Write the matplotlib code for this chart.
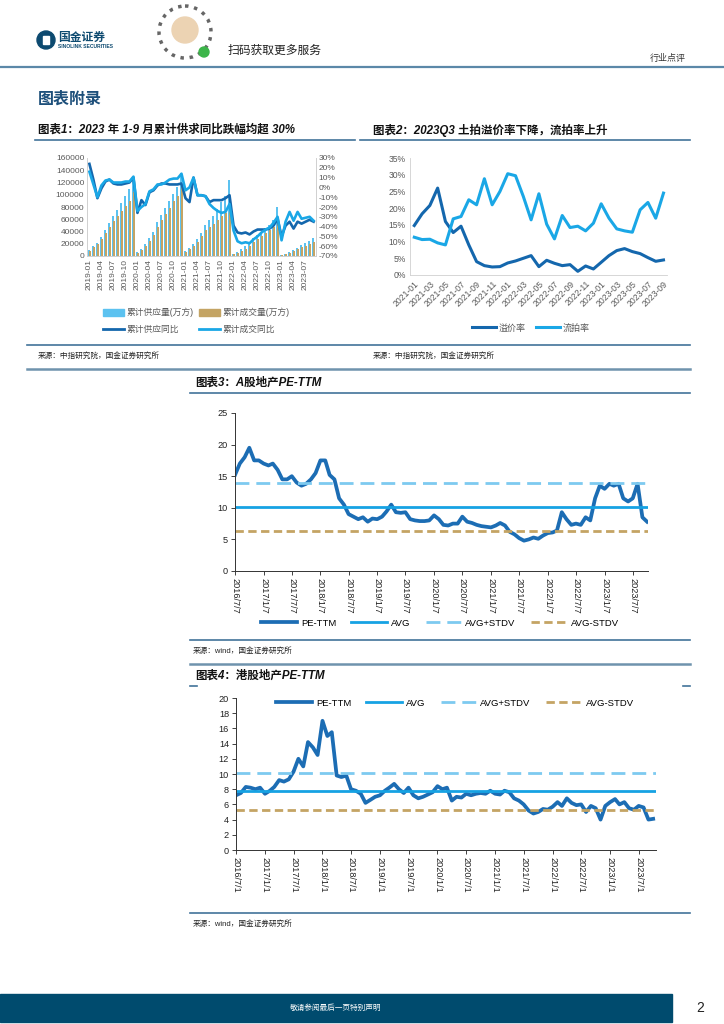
import matplotlib
matplotlib.use('Agg')
import matplotlib.pyplot as plt
from matplotlib.patches import Rectangle, Circle, Patch
from matplotlib.lines import Line2D
import numpy as np
import pandas as pd

plt.rcParams['font.family'] = ['Liberation Sans', 'Noto Sans CJK SC', 'DejaVu Sans']
plt.rcParams['axes.unicode_minus'] = False

W, H = 724, 1024

# ---- chart 1: cumulative land supply / deals (万方) and yoy (%)
months1 = pd.date_range('2019-01-01', '2023-09-01', freq='MS')
supply = [10000, 16000, 22000, 31000, 43000, 54000, 66000, 75000, 87000, 98000, 110000, 127000,
          6500, 12000, 19000, 29000, 40000, 55000, 67000, 78000, 90000, 102000, 113000, 136000,
          8000, 13000, 19000, 27000, 37000, 51000, 58000, 66000, 77000, 88000, 98000, 124000,
          4000, 7000, 11000, 16000, 21000, 29000, 34000, 39000, 45000, 51000, 58000, 80000,
          2000, 4000, 6500, 9000, 13000, 18000, 21000, 25000, 30000]
deal = [8000, 14000, 19000, 27000, 37000, 47000, 57000, 65000, 74000, 82000, 90000, 105000,
        5000, 10000, 16000, 25000, 35000, 48000, 58000, 68000, 78000, 89000, 98000, 116000,
        7000, 11000, 16000, 23000, 32000, 43000, 48000, 53000, 59000, 65000, 70000, 72000,
        3000, 5000, 8000, 12000, 16000, 23000, 28000, 33000, 38000, 43000, 48000, 55000,
        1500, 3000, 5000, 7500, 11000, 14000, 16000, 19000, 23000]
supply_yoy = [24, 8, -11, -1, 6, 8, 4, 3, 3, 4, 5, 10,
              -26, -13, -18, -5, -3, 2, 4, 4, 3, 3, 3, 4,
              -11, -15, 10, -8, -8, -9, -15, -13, -13, -13, -11, -8,
              -39, -46, -47, -46, -48, -45, -43, -43, -43, -42, -39, -32,
              -50, -39, -35, -42, -35, -37, -35, -33, -35]
deal_yoy = [16, 3, -10, 2, 7, 8, 5, 5, 5, 6, 6, 11,
            -24, -20, -17, -4, -2, 3, 3, 5, 8, 9, 9, 14,
            -3, 0, 10, -8, -8, -9, -17, -21, -24, -26, -25, -17,
            -44, -55, -57, -56, -57, -53, -50, -46, -43, -41, -36, -30,
            -54, -35, -25, -34, -25, -32, -31, -30, -34]

# ---- chart 2: land auction premium rate / failed auction rate (%)
months2 = pd.date_range('2021-01-01', '2023-09-01', freq='MS')
premium = [14.8, 18.3, 20.8, 26.0, 16.0, 12.7, 14.6, 9.0, 4.0, 2.8, 2.4, 2.5,
           3.6, 4.2, 5.0, 5.8, 2.5, 4.4, 3.5, 2.8, 3.1, 1.1, 2.7, 1.8,
           3.8, 5.8, 7.3, 7.9, 7.0, 6.4, 5.2, 4.1, 4.5]
failed = [11.3, 10.6, 10.7, 9.6, 9.0, 16.8, 17.5, 22.5, 21.0, 28.8, 21.0, 25.0,
          30.3, 29.7, 23.5, 16.5, 24.3, 15.2, 10.8, 17.8, 14.2, 14.6, 13.2, 15.5,
          21.3, 17.0, 13.8, 13.2, 12.8, 19.5, 21.7, 17.0, 24.5]

# ---- chart 3: A-share property PE-TTM (monthly read-off)
a_pe = [15.2, 17.0, 18.0, 19.5, 17.5, 17.5, 17.0, 16.7, 17.0, 16.0, 14.5, 14.5,
        15.0, 14.0, 13.5, 13.8, 14.5, 15.5, 17.5, 17.5, 15.2, 14.5, 11.5, 10.5,
        9.0, 8.6, 8.2, 8.5, 7.8, 8.3, 8.2, 8.6, 9.4, 10.5, 9.3, 9.2,
        9.3, 8.2, 8.0, 7.9, 7.9, 8.0, 8.8, 8.2, 7.3, 7.2, 7.5, 7.5,
        8.6, 7.8, 7.6, 7.3, 7.1, 7.0, 6.9, 7.2, 7.6, 7.2, 6.2, 5.8,
        5.2, 4.8, 5.0, 5.3, 5.1, 5.6, 6.0, 6.1, 6.4, 9.3, 8.2, 7.3,
        7.5, 7.3, 8.5, 8.0, 11.5, 13.5, 13.0, 13.8, 13.5, 13.8, 11.5, 11.0,
        11.5, 13.8, 8.5, 7.8]
a_avg, a_up, a_dn = 10.2, 14.0, 6.4

# ---- chart 4: HK property PE-TTM (monthly read-off)
h_pe = [7.2, 7.5, 8.3, 8.2, 8.0, 8.2, 7.4, 7.8, 8.3, 9.2, 9.0, 9.3,
        10.3, 12.0, 11.0, 14.2, 13.5, 12.5, 17.0, 15.0, 15.5, 9.8, 9.6, 9.8,
        8.0, 7.8, 7.4, 6.2, 6.6, 7.0, 7.2, 7.8, 8.2, 8.7, 8.0, 7.5,
        8.2, 7.2, 6.8, 7.0, 7.3, 7.6, 8.4, 8.0, 8.2, 6.5, 7.0, 6.9,
        7.4, 7.2, 7.4, 7.5, 7.4, 7.8, 7.4, 7.3, 7.8, 7.6, 6.8, 6.5,
        6.0, 5.2, 4.8, 5.0, 5.4, 5.3, 5.7, 6.3, 5.8, 6.8, 6.2, 5.9,
        6.0, 5.0, 5.8, 5.5, 4.0, 5.8, 6.3, 6.7, 6.0, 6.3, 5.5, 5.3,
        5.8, 5.6, 4.0, 4.1]
h_avg, h_up, h_dn = 7.7, 10.1, 5.2

DARK = '#1467ad'
LIGHT = '#1aa7e6'
PALE = '#7dcaf0'
TAN = '#c4a464'
GREY = '#595959'
NAVY = '#0d4a70'
RULE = '#42739a'


def rect(x0, y0, x1, y1):
    return [x0 / W, 1 - y1 / H, (x1 - x0) / W, (y1 - y0) / H]


def fpos(x, y):
    return (x / W, 1 - y / H)


fig = plt.figure(figsize=(7.24, 10.24), dpi=100)

# page furniture drawn in pixel coordinates
bg = fig.add_axes([0, 0, 1, 1])
bg.set_xlim(0, W)
bg.set_ylim(H, 0)
bg.axis('off')

bg.add_patch(Circle((46, 40), 9, color=NAVY))
bg.add_patch(Rectangle((43, 36), 6, 8, color='white'))
bg.text(58, 37, '国金证券', fontsize=8.5, fontweight='bold', color=NAVY, va='center',
        family=['Noto Sans CJK SC'])
bg.text(58, 47, 'SINOLINK SECURITIES', fontsize=3.6, fontweight='bold', color=NAVY, va='center')
bg.add_patch(Circle((185, 32), 26, fill=False, ls=':', lw=2.5, color='#666666'))
bg.add_patch(Circle((185, 30), 13, color='#ecd3b3'))
bg.add_patch(Circle((204, 52), 5, color='#3cb54a'))
bg.text(228, 51, '扫码获取更多服务', fontsize=8.5, color='#222222', va='center')
bg.text(668, 58, '行业点评', fontsize=6.5, color='#333333', ha='center', va='center')
bg.plot([0, W], [67, 67], color='#5b88a8', lw=1.6)
bg.text(38, 99, '图表附录', fontsize=11.5, fontweight='bold', color='#1d4f7a', va='center')

title_kw = dict(fontsize=8.3, fontweight='bold', color='#111111', va='center', style='italic')
src_kw = dict(fontsize=5.5, color='#222222', va='center')
bg.text(38, 130, '图表1：2023 年 1-9 月累计供求同比跌幅均超 30%', **title_kw)
bg.text(373, 130, '图表2：2023Q3 土拍溢价率下降，流拍率上升', **title_kw)
bg.plot([35, 355], [140, 140], color=RULE, lw=1.2)
bg.plot([360, 690], [140, 140], color=RULE, lw=1.2)
bg.plot([27, 690], [345, 345], color=RULE, lw=1.2)
bg.text(38, 356, '来源：中指研究院，国金证券研究所', **src_kw)
bg.text(373, 356, '来源：中指研究院，国金证券研究所', **src_kw)
bg.plot([27, 690], [369, 369], color='#6f93ad', lw=1.8)
bg.text(195, 383, '图表3：A股地产PE-TTM', **title_kw)
bg.plot([190, 690], [393, 393], color=RULE, lw=1.2)
bg.plot([190, 690], [640, 640], color=RULE, lw=1.2)
bg.text(193, 651, '来源：wind，国金证券研究所', **src_kw)
bg.plot([190, 690], [664, 664], color='#6f93ad', lw=1.8)
bg.text(195, 676, '图表4：港股地产PE-TTM', **title_kw)
bg.plot([190, 197], [686, 686], color=RULE, lw=1.2)
bg.plot([683, 690], [686, 686], color=RULE, lw=1.2)
bg.plot([190, 690], [913, 913], color=RULE, lw=1.2)
bg.text(193, 924, '来源：wind，国金证券研究所', **src_kw)
bg.add_patch(Rectangle((0, 994), 672, 28, color='#004b6e'))
bg.text(336, 1008, '敬请参阅最后一页特别声明', fontsize=5.5, color='white', ha='center', va='center')
bg.text(700, 1008, '2', fontsize=10, color='#222222', ha='center', va='center')

# ---- chart 1
ax1 = fig.add_axes(rect(87, 158, 316, 256))
x1 = np.arange(len(months1))
ax1.bar(x1 - 0.2, supply, width=0.45, color='#5cc2f0')
ax1.bar(x1 + 0.2, deal, width=0.45, color=TAN)
ax1.set_xlim(-0.6, len(months1) - 0.4)
ax1.set_ylim(0, 160000)
ax1.set_yticks(range(0, 160001, 20000))
ax1.set_yticklabels([str(v) for v in range(0, 160001, 20000)])
ax1.set_xticks(x1[::3])
ax1.set_xticklabels([d.strftime('%Y-%m') for d in months1[::3]], rotation=90)
ax1.tick_params(labelsize=6, colors=GREY, length=0, pad=2)
ax1r = ax1.twinx()
ax1r.plot(x1, supply_yoy, color=DARK, lw=1.9)
ax1r.plot(x1, deal_yoy, color=LIGHT, lw=1.9)
ax1r.set_ylim(-70, 30)
ax1r.set_yticks(range(-70, 31, 10))
ax1r.set_yticklabels([f'{v}%' for v in range(-70, 31, 10)])
ax1r.tick_params(labelsize=6, colors=GREY, length=0, pad=2)
for a in (ax1, ax1r):
    a.spines['top'].set_visible(False)
    for s in ('left', 'right', 'bottom'):
        a.spines[s].set_color('#d0d0d0')
        a.spines[s].set_linewidth(0.6)
h1 = [Patch(color='#5cc2f0'), Patch(color=TAN),
      Line2D([], [], color=DARK, lw=2), Line2D([], [], color=LIGHT, lw=2)]
l1 = ['累计供应量(万方)', '累计成交量(万方)', '累计供应同比', '累计成交同比']
ax1r.legend([h1[0], h1[2], h1[1], h1[3]], [l1[0], l1[2], l1[1], l1[3]], ncol=2,
            loc='center', bbox_to_anchor=fpos(196, 321), bbox_transform=fig.transFigure,
            frameon=False, fontsize=6.3, handlelength=2.4, handleheight=0.8,
            columnspacing=0.6, handletextpad=0.3, labelspacing=0.9, labelcolor=GREY)

# ---- chart 2
ax2 = fig.add_axes(rect(410, 158, 667, 275))
x2 = np.arange(len(months2))
ax2.plot(x2, premium, color=DARK, lw=2.2, label='溢价率')
ax2.plot(x2, failed, color=LIGHT, lw=2.2, label='流拍率')
ax2.set_xlim(-0.55, len(months2) - 0.55)
ax2.set_ylim(0, 35)
ax2.set_yticks(range(0, 36, 5))
ax2.set_yticklabels([f'{v}%' for v in range(0, 36, 5)])
ax2.set_xticks(x2[::2])
ax2.set_xticklabels([d.strftime('%Y-%m') for d in months2[::2]], rotation=45,
                    ha='right', rotation_mode='anchor')
ax2.tick_params(labelsize=6.2, colors=GREY, length=0, pad=3)
for s in ('top', 'right'):
    ax2.spines[s].set_visible(False)
for s in ('left', 'bottom'):
    ax2.spines[s].set_color('#d0d0d0')
    ax2.spines[s].set_linewidth(0.6)
ax2.legend(ncol=2, loc='center', bbox_to_anchor=fpos(531, 328), bbox_transform=fig.transFigure,
           frameon=False, fontsize=6.5, handlelength=2.6, columnspacing=1.2,
           handletextpad=0.3, labelcolor=GREY)


def pe_chart(ax, dates, pe, avg, up, dn, x0, x1, ticks, ymax, ystep, legend_y, legend_x):
    ax.plot(dates, pe, color='#1c6db4', lw=2.7, label='PE-TTM')
    ax.axhline(avg, color='#16a2e3', lw=2.0, label='AVG')
    ax.axhline(up, color=PALE, lw=2.0, dashes=(5, 2.5), label='AVG+STDV')
    ax.axhline(dn, color=TAN, lw=2.0, dashes=(3, 1.6), label='AVG-STDV')
    ax.set_xlim(x0, x1)
    ax.set_ylim(0, ymax)
    ax.set_yticks(np.arange(0, ymax + 0.1, ystep))
    ax.set_xticks(ticks)
    ax.set_xticklabels([f'{d.year}/{d.month}/{d.day}' for d in ticks], rotation=-90)
    ax.tick_params(labelsize=6.6, colors='#222222', length=3, width=0.6, pad=2)
    for s in ('top', 'right'):
        ax.spines[s].set_visible(False)
    for s in ('left', 'bottom'):
        ax.spines[s].set_color('#333333')
        ax.spines[s].set_linewidth(0.7)
    ax.legend(ncol=4, loc='center', bbox_to_anchor=fpos(legend_x, legend_y),
              bbox_transform=fig.transFigure, frameon=False, fontsize=6.8,
              handlelength=3.8, columnspacing=1.6, handletextpad=0.4)


# ---- chart 3
dates3 = pd.date_range('2016-07-01', periods=len(a_pe), freq='MS') + pd.Timedelta(days=6)
ticks3 = pd.date_range('2016-07-07', periods=15, freq=pd.DateOffset(months=6))
ax3 = fig.add_axes(rect(235, 413, 648, 571))
pe_chart(ax3, dates3, a_pe, a_avg, a_up, a_dn, pd.Timestamp('2016-07-07'),
         pd.Timestamp('2023-10-13'), ticks3, 25, 5, 623, 440)

# ---- chart 4
dates4 = pd.date_range('2016-07-01', periods=len(h_pe), freq='MS')
ticks4 = pd.date_range('2016-07-01', periods=15, freq=pd.DateOffset(months=6))
ax4 = fig.add_axes(rect(236, 698, 656, 850))
pe_chart(ax4, dates4, h_pe, h_avg, h_up, h_dn, pd.Timestamp('2016-07-01'),
         pd.Timestamp('2023-10-19'), ticks4, 20, 2, 703, 455)

fig.savefig('out.png', dpi=100)
